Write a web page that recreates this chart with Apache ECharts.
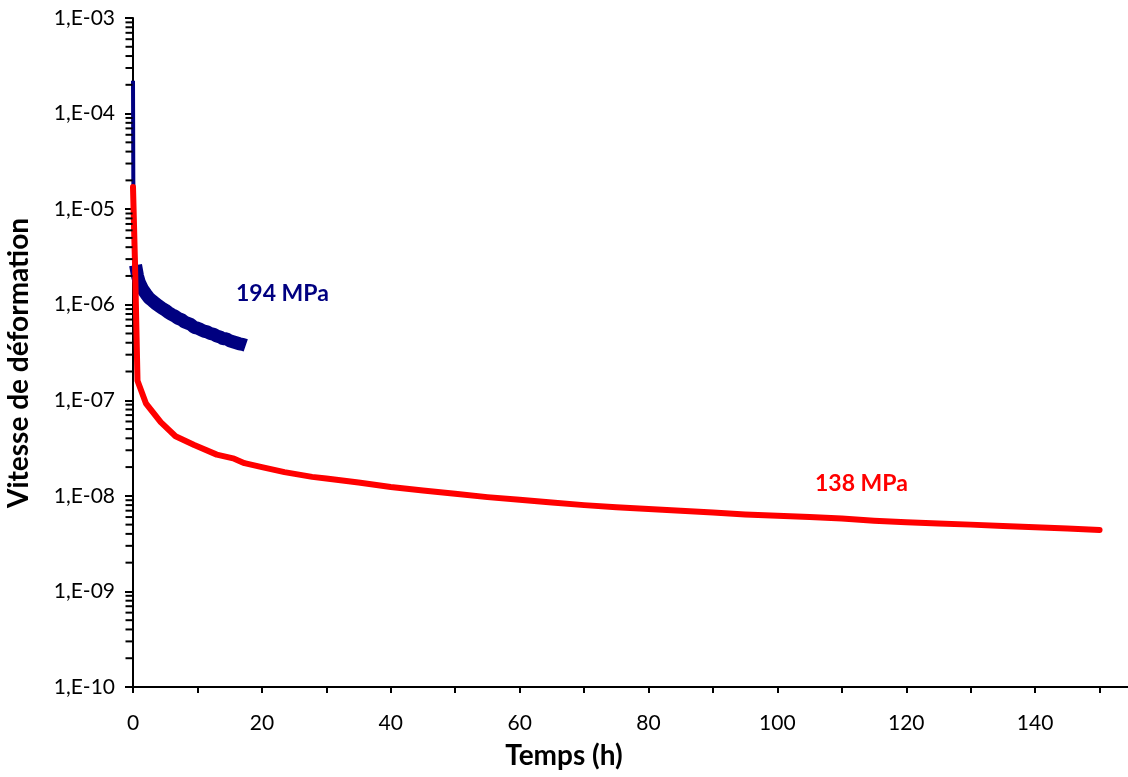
<!DOCTYPE html>
<html>
<head>
<meta charset="utf-8">
<script src="https://cdn.jsdelivr.net/npm/echarts@6/dist/echarts.min.js"></script>
<style>
html,body{margin:0;padding:0;background:#fff;}
#c{width:1128px;height:777px;}
</style>
</head>
<body>
<div id="c"></div>
<script>
// ---- data ----
const redTime = [0, 0.3, 0.7, 2.0, 4.3, 6.6, 9.5, 13, 15.7, 17.3, 20, 23.5, 27.8, 30, 35, 40, 45, 50, 55, 60, 65, 70, 75, 80, 85, 90, 95, 100, 105, 110, 115, 120, 125, 130, 135, 140, 145, 150];
const redRate = [1.7e-5, 2.9e-6, 1.6e-7, 9.3e-8, 5.9e-8, 4.2e-8, 3.4e-8, 2.7e-8, 2.45e-8, 2.2e-8, 2.0e-8, 1.77e-8, 1.58e-8, 1.52e-8, 1.38e-8, 1.24e-8, 1.14e-8, 1.05e-8, 9.7e-9, 9.1e-9, 8.5e-9, 8.0e-9, 7.6e-9, 7.3e-9, 7.0e-9, 6.7e-9, 6.4e-9, 6.2e-9, 6.0e-9, 5.8e-9, 5.5e-9, 5.3e-9, 5.15e-9, 5.0e-9, 4.85e-9, 4.7e-9, 4.55e-9, 4.4e-9];

const blueSpikeTime = [0, 0.05, 0.2, 0.4];
const blueSpikeRate = [2.2e-4, 2.0e-5, 4.0e-6, 2.6e-6];

const blueTime = [0.4, 0.7, 1, 1.5, 2, 2.5, 3, 3.5, 4, 4.5, 5, 5.5, 6, 6.5, 7, 7.5, 8, 8.5, 9, 9.5, 10, 10.5, 11, 11.5, 12, 12.5, 13, 13.5, 14, 14.5, 15, 15.5, 16, 16.5, 17, 17.5];
const blueRate = [2.6e-6, 2.0e-6, 1.7e-6, 1.45e-6, 1.3e-6, 1.17e-6, 1.1e-6, 1.03e-6, 0.97e-6, 0.92e-6, 0.88e-6, 0.83e-6, 0.79e-6, 0.76e-6, 0.72e-6, 0.70e-6, 0.66e-6, 0.64e-6, 0.62e-6, 0.58e-6, 0.57e-6, 0.55e-6, 0.53e-6, 0.52e-6, 0.50e-6, 0.49e-6, 0.47e-6, 0.46e-6, 0.44e-6, 0.44e-6, 0.42e-6, 0.41e-6, 0.40e-6, 0.39e-6, 0.385e-6, 0.375e-6];

const xTickLabels = ['0', '20', '40', '60', '80', '100', '120', '140'];
const yDecades = [-10, -9, -8, -7, -6, -5, -4];
const minorMultipliers = [2, 3, 4, 5, 6, 7, 8, 9];

const xTitle = 'Temps (h)';
const yTitle = 'Vitesse de déformation';
const labelBlue = '194 MPa';
const labelRed = '138 MPa';

// ---- build ----
const zip = (a, b) => a.map((v, i) => [v, b[i]]);
const minorTicks = [];
yDecades.forEach(d => minorMultipliers.forEach(m => minorTicks.push([0, m * Math.pow(10, d)])));

const FONT = 'Lato';
const chart = echarts.init(document.getElementById('c'), null, {renderer: 'canvas'});
chart.setOption({
  backgroundColor: '#ffffff',
  animation: false,
  grid: {left: 133, top: 18, height: 669, width: 1031, outerBoundsMode: 'none'},
  xAxis: {
    type: 'value', min: 0, max: 160, interval: 10,
    axisLine: {lineStyle: {color: '#000', width: 2}},
    axisTick: {length: 6, inside: false, lineStyle: {color: '#000', width: 2}},
    splitLine: {show: false},
    axisLabel: {
      color: '#000', fontFamily: FONT, fontSize: 21, margin: 26,
      showMaxLabel: false,
      formatter: v => xTickLabels.indexOf(String(v)) >= 0 ? String(v) : ''
    }
  },
  yAxis: {
    type: 'log', logBase: 10, min: 1e-10, max: 1e-3, interval: 1,
    axisLine: {lineStyle: {color: '#000', width: 2}},
    axisTick: {length: 8, inside: false, lineStyle: {color: '#000', width: 2}},
    splitLine: {show: false},
    axisLabel: {
      color: '#000', fontFamily: FONT, fontSize: 21, margin: 18,
      formatter: v => {
        const e = Math.round(Math.log10(v));
        const a = Math.abs(e);
        return '1,E' + (e < 0 ? '-' : '+') + (a < 10 ? '0' + a : String(a));
      }
    }
  },
  graphic: [
    {type: 'text', left: 'center', top: 742, style: {text: xTitle, font: 'bold 28px Lato', fill: '#000'}},
    {type: 'text', rotation: Math.PI / 2, x: 5, y: 363, style: {text: yTitle, font: 'bold 28px Lato', fill: '#000', textAlign: 'center', textVerticalAlign: 'top'}},
    {type: 'text', x: 236, y: 294, style: {text: labelBlue, font: 'bold 23px Lato', fill: '#000080', textVerticalAlign: 'middle'}},
    {type: 'text', x: 815, y: 484, style: {text: labelRed, font: 'bold 23px Lato', fill: '#ff0000', textVerticalAlign: 'middle'}}
  ],
  series: [
    {type: 'scatter', data: minorTicks, symbol: 'rect', symbolSize: [7, 2], symbolOffset: [-4, 0],
     itemStyle: {color: '#000000', opacity: 1}, clip: false, z: 10},
    {type: 'line', data: zip(blueSpikeTime, blueSpikeRate), showSymbol: false, lineStyle: {color: '#000080', width: 4}, z: 2},
    {type: 'line', data: zip(blueTime, blueRate), showSymbol: false, lineStyle: {color: '#000080', width: 13, cap: 'butt'}, z: 2},
    {type: 'line', data: zip(redTime, redRate), showSymbol: false, lineStyle: {color: '#ff0000', width: 6, cap: 'round', join: 'round'}, z: 3}
  ]
});
</script>
</body>
</html>
